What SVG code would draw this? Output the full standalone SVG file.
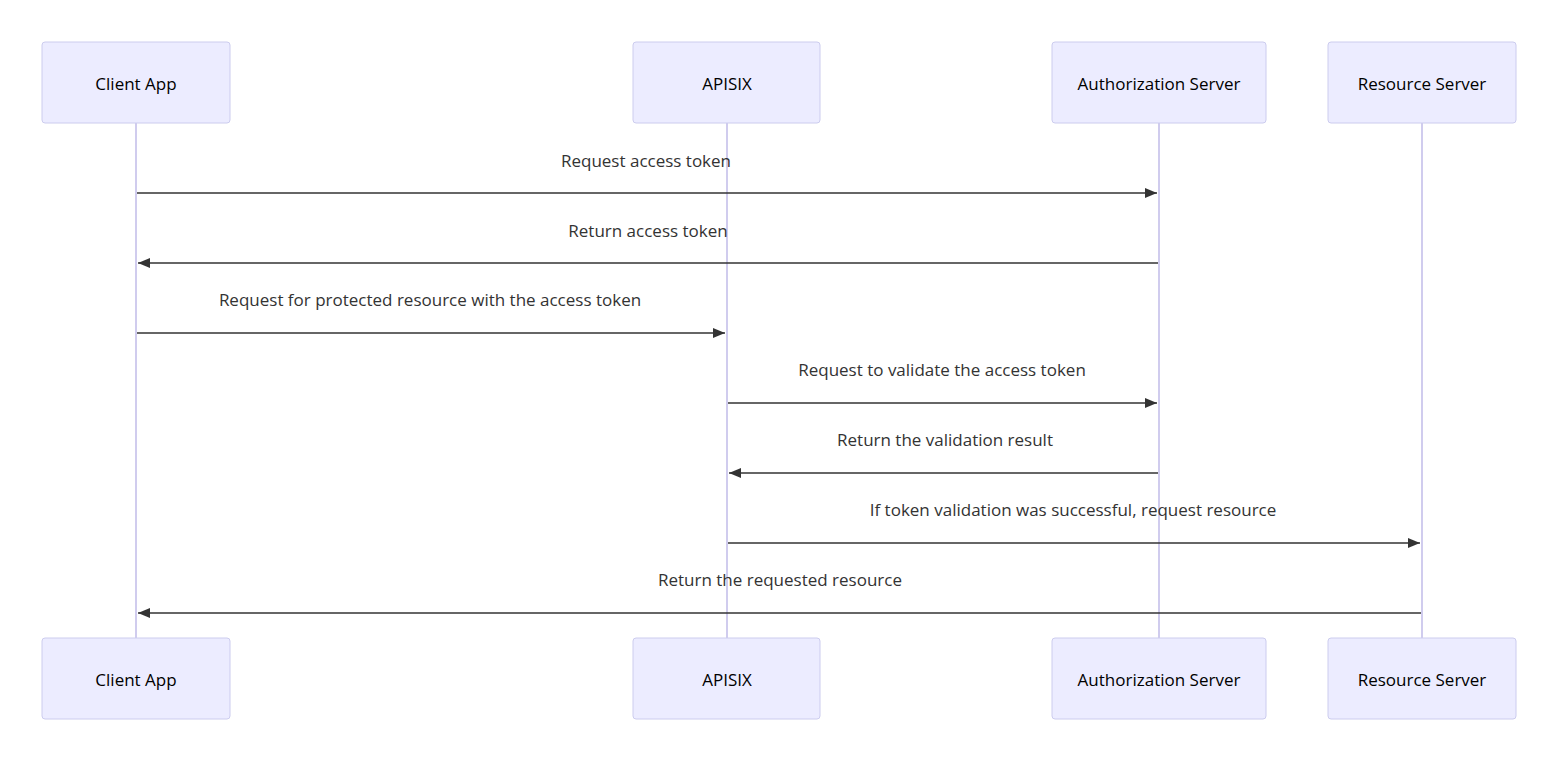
<svg xmlns="http://www.w3.org/2000/svg" width="1567" height="757" viewBox="0 0 1567 757">
<style>
.actor{fill:#ECECFF;stroke:#CCCCEE;stroke-width:1}
.at{font-family:"Open Sans","Noto Sans",sans-serif;font-size:17px;fill:#000;text-anchor:middle;dominant-baseline:central}
.life{stroke:#D0CCEE;stroke-width:2}
.msg{stroke:#333;stroke-width:1.5;fill:none;marker-end:url(#ah)}
.mt{font-family:"Open Sans","Noto Sans",sans-serif;font-size:17px;fill:#333;text-anchor:middle}
</style>
<defs><marker id="ah" viewBox="0 0 12 10" refX="12" refY="5" markerWidth="12" markerHeight="10" markerUnits="userSpaceOnUse" orient="auto"><path d="M0,0 L12,5 L0,10 z" fill="#333"/></marker></defs>
<rect width="1567" height="757" fill="#fff"/>
<g id="lifelines">
<line class="life" x1="136" y1="123" x2="136" y2="638"/>
<line class="life" x1="727" y1="123" x2="727" y2="638"/>
<line class="life" x1="1159" y1="123" x2="1159" y2="638"/>
<line class="life" x1="1422" y1="123" x2="1422" y2="638"/>
</g>
<g id="client"><rect class="actor" x="42" y="42" width="188" height="81" rx="3"/><text class="at" x="136" y="83">Client App</text></g>
<g id="apisix"><rect class="actor" x="633" y="42" width="187" height="81" rx="3"/><text class="at" x="727" y="83">APISIX</text></g>
<g id="auth"><rect class="actor" x="1052" y="42" width="214" height="81" rx="3"/><text class="at" x="1159" y="83">Authorization Server</text></g>
<g id="resource"><rect class="actor" x="1328" y="42" width="188" height="81" rx="3"/><text class="at" x="1422" y="83">Resource Server</text></g>
<g id="client-b"><rect class="actor" x="42" y="638" width="188" height="81" rx="3"/><text class="at" x="136" y="679">Client App</text></g>
<g id="apisix-b"><rect class="actor" x="633" y="638" width="187" height="81" rx="3"/><text class="at" x="727" y="679">APISIX</text></g>
<g id="auth-b"><rect class="actor" x="1052" y="638" width="214" height="81" rx="3"/><text class="at" x="1159" y="679">Authorization Server</text></g>
<g id="resource-b"><rect class="actor" x="1328" y="638" width="188" height="81" rx="3"/><text class="at" x="1422" y="679">Resource Server</text></g>
<g id="connectors">
<line class="msg" x1="137" y1="193" x2="1157" y2="193"/>
<text class="mt" x="646" y="167">Request access token</text>
<line class="msg" x1="1158" y1="263" x2="138" y2="263"/>
<text class="mt" x="648" y="237">Return access token</text>
<line class="msg" x1="137" y1="333" x2="725" y2="333"/>
<text class="mt" x="430" y="306">Request for protected resource with the access token</text>
<line class="msg" x1="728" y1="403" x2="1157" y2="403"/>
<text class="mt" x="942" y="376">Request to validate the access token</text>
<line class="msg" x1="1158" y1="473" x2="729" y2="473"/>
<text class="mt" x="945" y="446">Return the validation result</text>
<line class="msg" x1="728" y1="543" x2="1420" y2="543"/>
<text class="mt" x="1073" y="516">If token validation was successful, request resource</text>
<line class="msg" x1="1421" y1="613" x2="138" y2="613"/>
<text class="mt" x="780" y="586">Return the requested resource</text>
</g>
</svg>
